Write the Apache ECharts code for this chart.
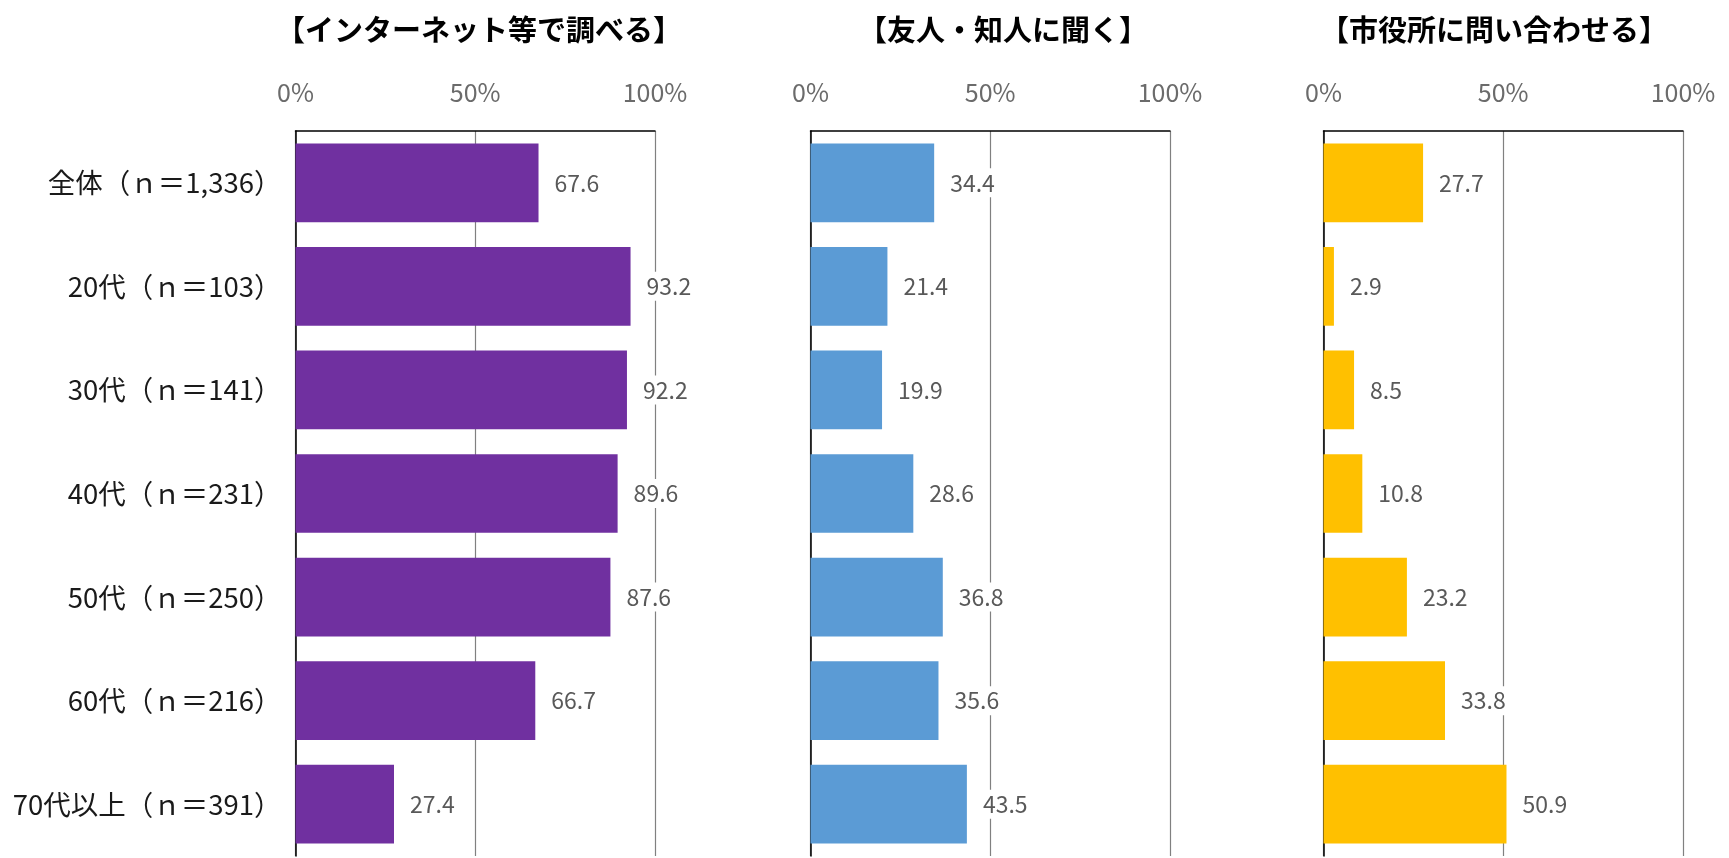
<!DOCTYPE html>
<html>
<head>
<meta charset="utf-8">
<script src="https://cdn.jsdelivr.net/npm/echarts@6/dist/echarts.min.js"></script>
<style>
  html, body { margin: 0; padding: 0; background: #fff; }
  #chart { width: 1729px; height: 858px; }
</style>
</head>
<body>
<div id="chart"></div>
<script>
// Respondent groups (top to bottom)
const categories = [
  '全体（ｎ＝1,336）',
  '20代（ｎ＝103）',
  '30代（ｎ＝141）',
  '40代（ｎ＝231）',
  '50代（ｎ＝250）',
  '60代（ｎ＝216）',
  '70代以上（ｎ＝391）'
];

// Panel titles
const panelTitles = ['【インターネット等で調べる】', '【友人・知人に聞く】', '【市役所に問い合わせる】'];

// Share of respondents (%) per group
const netValues    = [67.6, 93.2, 92.2, 89.6, 87.6, 66.7, 27.4];
const friendValues = [34.4, 21.4, 19.9, 28.6, 36.8, 35.6, 43.5];
const cityValues   = [27.7, 2.9, 8.5, 10.8, 23.2, 33.8, 50.9];

// Axis ticks
const tickValues = [0, 50, 100];

const panelValues = [netValues, friendValues, cityValues];
const panelColors = ['#7030A0', '#5B9BD5', '#FFC000'];
const gridLefts = [295.5, 810.5, 1323.5];
const gridWidth = 359.5;
const titleCenters = [474, 998, 1489];

const FONT = '"Noto Sans CJK JP", "Noto Sans", sans-serif';

const option = {
  animation: false,
  backgroundColor: '#ffffff',
  title: panelTitles.map((t, i) => ({
    text: t,
    left: titleCenters[i],
    top: 10,
    textAlign: 'center',
    textStyle: { fontFamily: FONT, fontSize: 29, fontWeight: 'bold', color: '#000' }
  })),
  grid: gridLefts.map(l => ({ left: l, width: gridWidth, top: 131, bottom: 2 })),
  xAxis: gridLefts.map((l, i) => ({
    type: 'value',
    gridIndex: i,
    position: 'top',
    min: tickValues[0],
    max: tickValues[tickValues.length - 1],
    interval: tickValues[1] - tickValues[0],
    axisLine: { show: true, lineStyle: { color: '#000', width: 1.5 } },
    axisTick: { show: false },
    splitLine: { show: true, lineStyle: { color: '#808080', width: 1.2 } },
    axisLabel: {
      formatter: '{value}%',
      fontFamily: FONT,
      fontSize: 25,
      color: '#6b6b6b',
      margin: 26
    }
  })),
  yAxis: gridLefts.map((l, i) => ({
    type: 'category',
    gridIndex: i,
    inverse: true,
    data: categories,
    axisLine: { show: true, lineStyle: { color: '#000', width: 1.5 } },
    axisTick: { show: false },
    axisLabel: {
      show: i === 0,
      fontFamily: FONT,
      fontSize: 27.5,
      color: '#1a1a1a',
      margin: 14
    }
  })),
  series: panelValues.map((vals, i) => ({
    type: 'bar',
    xAxisIndex: i,
    yAxisIndex: i,
    data: vals,
    barCategoryGap: '24%',
    itemStyle: { color: panelColors[i] },
    label: {
      show: true,
      position: 'right',
      distance: 12,
      formatter: p => p.value.toFixed(1),
      fontFamily: FONT,
      fontSize: 23,
      color: '#595959',
      backgroundColor: '#ffffff',
      padding: [3, 4]
    }
  }))
};

const chart = echarts.init(document.getElementById('chart'), null, { renderer: 'canvas' });
chart.setOption(option);
</script>
</body>
</html>
